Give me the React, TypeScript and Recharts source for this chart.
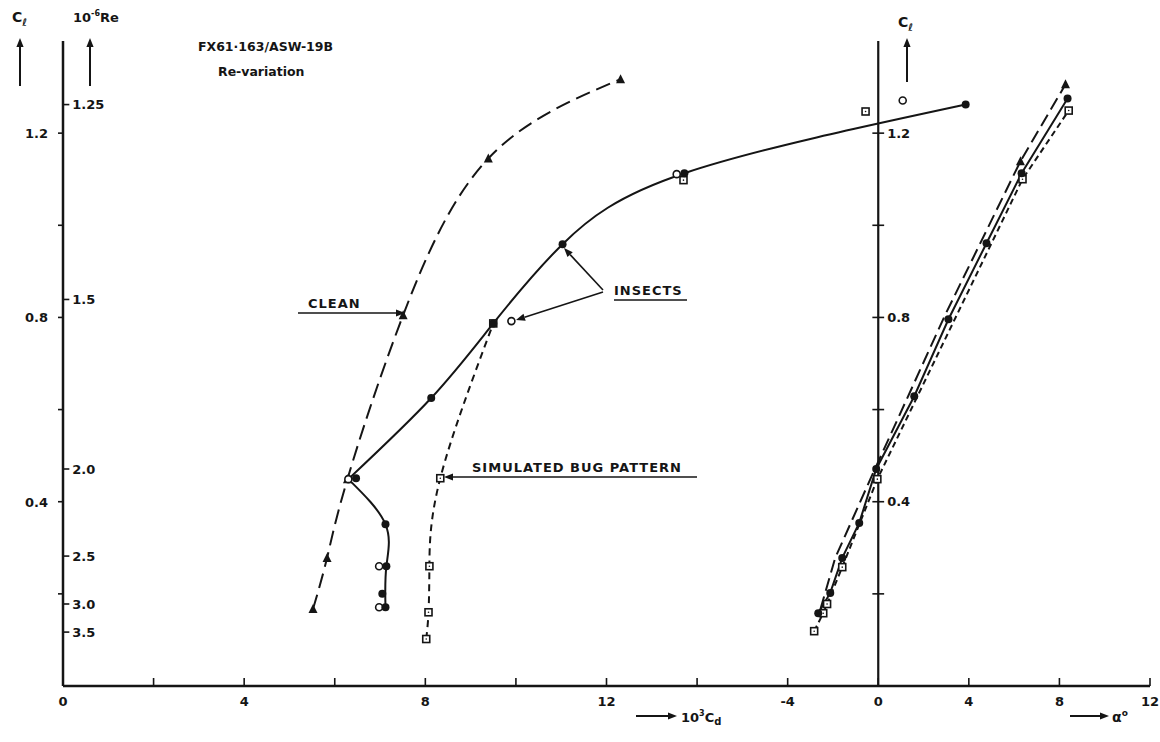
import React from 'react';
import { ComposedChart, Line, Scatter, XAxis, YAxis, ReferenceLine } from 'recharts';

// drag polar (x = 10^3 Cd, y = Cl)
const cleanPolar = [
  { x: 5.52, y: 0.167 }, { x: 5.83, y: 0.278 }, { x: 6.28, y: 0.449 },
  { x: 7.51, y: 0.805 }, { x: 9.39, y: 1.145 }, { x: 12.31, y: 1.317 },
];
const insectsPolarLow = [
  { x: 7.12, y: 0.171 }, { x: 7.14, y: 0.26 }, { x: 7.12, y: 0.351 }, { x: 6.3, y: 0.449 },
];
const insectsPolarHigh = [
  { x: 6.3, y: 0.449 }, { x: 8.13, y: 0.625 }, { x: 9.5, y: 0.787 },
  { x: 11.03, y: 0.959 }, { x: 13.72, y: 1.113 }, { x: 19.93, y: 1.262 },
];
const insectsPolarDots = [
  { x: 7.12, y: 0.171 }, { x: 7.05, y: 0.2 }, { x: 7.14, y: 0.26 }, { x: 7.12, y: 0.351 },
  { x: 6.47, y: 0.451 }, { x: 8.13, y: 0.625 }, { x: 9.5, y: 0.787 },
  { x: 11.03, y: 0.959 }, { x: 13.72, y: 1.113 }, { x: 19.93, y: 1.262 },
];
const insectsOpen = [
  { x: 6.98, y: 0.171 }, { x: 6.98, y: 0.26 }, { x: 6.3, y: 0.449 },
  { x: 9.9, y: 0.792 }, { x: 13.55, y: 1.111 }, { x: 18.54, y: 1.271 },
];
const bugPolar = [
  { x: 8.02, y: 0.102 }, { x: 8.07, y: 0.16 }, { x: 8.09, y: 0.26 },
  { x: 8.33, y: 0.451 }, { x: 9.5, y: 0.787 },
];
const bugPolarExtra = [{ x: 13.7, y: 1.098 }, { x: 17.72, y: 1.247 }];

// lift curves (alpha in degrees, Cl)
const cleanAlpha = [-2.55, -1.9, -0.35, 2.95, 6.28, 8.27];
const cleanCl = [0.167, 0.278, 0.449, 0.805, 1.139, 1.306];
const insectsAlpha = [-2.65, -2.12, -1.59, -0.84, -0.09, 1.59, 3.1, 4.78, 6.33, 8.36];
const insectsCl = [0.158, 0.202, 0.278, 0.354, 0.471, 0.629, 0.796, 0.961, 1.113, 1.275];
const bugAlpha = [-2.83, -2.43, -2.26, -1.59, -0.04, 6.37, 8.41];
const bugCl = [0.119, 0.158, 0.178, 0.258, 0.449, 1.1, 1.249];

// ticks
const xTicks = [0, 2, 4, 6, 8, 10, 12, 14, 16, 18, 20, 22, 24];
const xTickLabels = ['0', '', '4', '', '8', '', '12', '', '-4', '0', '4', '8', '12'];
const clTicks = [0.2, 0.4, 0.6, 0.8, 1.0, 1.2];
const clTickLabels = ['', '0.4', '', '0.8', '', '1.2'];
const reTickPos = [1.262, 0.839, 0.471, 0.282, 0.178, 0.117];
const reTickLabels = ['1.25', '1.5', '2.0', '2.5', '3.0', '3.5'];

const ALPHA_ZERO = 18; // alpha axis origin on the 10^3 Cd scale
const liftData = (alpha: number[], cl: number[]) =>
  alpha.map((a, i) => ({ x: ALPHA_ZERO + a / 2, y: cl[i] }));

const cleanLift = liftData(cleanAlpha, cleanCl);
const insectsLift = liftData(insectsAlpha, insectsCl);
const bugLift = liftData(bugAlpha, bugCl);
const cleanLiftMarks = cleanLift.slice(4);

const FONT = '"DejaVu Sans", sans-serif';
const INK = '#151515';
const txt = { fontFamily: FONT, fontWeight: 700, fill: INK } as const;
const labelStyle = { fontSize: 13, fontFamily: FONT, fontWeight: 700, fill: INK };

const XTick = (p: any) => {
  const label = xTickLabels[xTicks.indexOf(p.payload.value)];
  return (
    <g>
      <line x1={p.x} x2={p.x} y1={p.y} y2={p.y - 8} stroke={INK} strokeWidth={1.6} />
      {label ? <text x={p.x} y={p.y + 20} textAnchor="middle" fontSize={13} {...txt}>{label}</text> : null}
    </g>
  );
};

const ClTick = (p: any) => {
  const label = clTickLabels[clTicks.indexOf(p.payload.value)];
  return (
    <g>
      <line x1={p.x - 5} x2={p.x} y1={p.y} y2={p.y} stroke={INK} strokeWidth={1.6} />
      {label ? <text x={p.x - 15} y={p.y + 5} textAnchor="end" fontSize={13} {...txt}>{label}</text> : null}
    </g>
  );
};

const Dot = (p: any) => <circle cx={p.cx} cy={p.cy} r={4} fill={INK} />;
const OpenDot = (p: any) => <circle cx={p.cx} cy={p.cy} r={3.5} fill="#fff" stroke={INK} strokeWidth={1.6} />;
const Square = (p: any) => (
  <g>
    <rect x={p.cx - 3.5} y={p.cy - 3.5} width={7} height={7} fill="#fff" stroke={INK} strokeWidth={1.6} />
    <circle cx={p.cx} cy={p.cy} r={0.8} fill={INK} />
  </g>
);
const Tri = (p: any) => (
  <polygon points={`${p.cx},${p.cy - 5} ${p.cx - 4.5},${p.cy + 4} ${p.cx + 4.5},${p.cy + 4}`} fill={INK} />
);

const Arrow = ({ x1, y1, x2, y2, w = 1.6, head = 9 }: any) => {
  const a = Math.atan2(y2 - y1, x2 - x1);
  const hx = x2 - head * Math.cos(a);
  const hy = y2 - head * Math.sin(a);
  const s = head * 0.4;
  const pts = `${x2},${y2} ${hx + s * Math.sin(a)},${hy - s * Math.cos(a)} ${hx - s * Math.sin(a)},${hy + s * Math.cos(a)}`;
  return (
    <g>
      <line x1={x1} y1={y1} x2={hx} y2={hy} stroke={INK} strokeWidth={w} />
      <polygon points={pts} fill={INK} />
    </g>
  );
};

const Annotations = () => (
  <svg width={1160} height={742} style={{ position: 'absolute', left: 0, top: 0, pointerEvents: 'none' }}>
    <text x={12} y={22} fontSize={14} {...txt}>C<tspan fontSize={10} dy={4}>ℓ</tspan></text>
    <Arrow x1={20} y1={86} x2={20} y2={38} w={2} />
    <text x={73} y={22} fontSize={13} {...txt}>10<tspan fontSize={8} dy={-6}>-6</tspan><tspan dy={6}>Re</tspan></text>
    <Arrow x1={90} y1={86} x2={90} y2={38} w={2} />
    <text x={198} y={51} fontSize={12.5} {...txt} fontWeight={600}>FX61·163/ASW-19B</text>
    <text x={218} y={76} fontSize={12.5} {...txt} fontWeight={600}>Re-variation</text>

    <text x={308} y={308} fontSize={13} letterSpacing={1} {...txt}>CLEAN</text>
    <Arrow x1={298} y1={313} x2={405} y2={313} />

    <text x={614} y={295} fontSize={13} letterSpacing={1} {...txt}>INSECTS</text>
    <line x1={614} x2={687} y1={300} y2={300} stroke={INK} strokeWidth={1.6} />
    <Arrow x1={603} y1={290} x2={564} y2={248} />
    <Arrow x1={603} y1={292} x2={516} y2={320} />

    <text x={472} y={472} fontSize={13} letterSpacing={1} {...txt}>SIMULATED BUG PATTERN</text>
    <Arrow x1={697} y1={477} x2={444} y2={477} />

    <text x={898} y={27} fontSize={14} {...txt}>C<tspan fontSize={10} dy={4}>ℓ</tspan></text>
    <Arrow x1={907} y1={82} x2={907} y2={38} w={2} />

    <Arrow x1={636} y1={716} x2={677} y2={716} w={2} />
    <text x={681} y={722} fontSize={13} {...txt}>10<tspan fontSize={8} dy={-6}>3</tspan><tspan dy={6}>C</tspan><tspan fontSize={10} dy={3}>d</tspan></text>
    <Arrow x1={1070} y1={716} x2={1109} y2={716} w={2} />
    <text x={1112} y={722} fontSize={14} {...txt}>α<tspan fontSize={9} dy={-6}>o</tspan></text>
  </svg>
);

export default function App() {
  return (
    <div style={{ position: 'absolute', left: 0, top: 0, width: 1160, height: 742, background: '#fff' }}>
      <ComposedChart width={1160} height={742} margin={{ top: 41, right: 10, bottom: 0, left: 62 }}>
        <XAxis
          type="number"
          dataKey="x"
          domain={[0, 24]}
          ticks={xTicks}
          height={56}
          tickSize={0}
          tickMargin={0}
          tickLine={false}
          tick={<XTick />}
          axisLine={{ stroke: INK, strokeWidth: 2.5 }}
          interval={0}
        />
        <YAxis
          yAxisId="cl"
          type="number"
          dataKey="y"
          domain={[0, 1.4]}
          ticks={clTicks}
          width={1}
          tickSize={0}
          tickMargin={0}
          tickLine={false}
          tick={<ClTick />}
          axisLine={{ stroke: INK, strokeWidth: 2.5 }}
          interval={0}
        />

        {/* Reynolds number scale on the right side of the left axis */}
        {reTickPos.map((t, i) => (
          <ReferenceLine
            key={`re${t}`}
            yAxisId="cl"
            segment={[{ x: 0, y: t }, { x: 0.14, y: t }]}
            stroke={INK}
            strokeWidth={1.6}
            label={{ value: reTickLabels[i], position: 'right', offset: 3, ...labelStyle }}
          />
        ))}

        {/* alpha panel axis */}
        <ReferenceLine yAxisId="cl" x={ALPHA_ZERO} stroke={INK} strokeWidth={2.2} />
        {clTicks.map((t, i) => (
          <ReferenceLine
            key={t}
            yAxisId="cl"
            segment={[{ x: ALPHA_ZERO - 0.13, y: t }, { x: ALPHA_ZERO + 0.13, y: t }]}
            stroke={INK}
            strokeWidth={1.6}
            label={clTickLabels[i] ? { value: clTickLabels[i], position: 'right', offset: 3, ...labelStyle } : undefined}
          />
        ))}

        {/* drag polar */}
        <Line yAxisId="cl" data={cleanPolar} dataKey="y" type="natural" stroke={INK} strokeWidth={2} strokeDasharray="15 7" dot={false} isAnimationActive={false} />
        <Line yAxisId="cl" data={insectsPolarLow} dataKey="y" type="natural" stroke={INK} strokeWidth={2} dot={false} isAnimationActive={false} />
        <Line yAxisId="cl" data={insectsPolarHigh} dataKey="y" type="natural" stroke={INK} strokeWidth={2} dot={false} isAnimationActive={false} />
        <Line yAxisId="cl" data={bugPolar} dataKey="y" type="natural" stroke={INK} strokeWidth={2} strokeDasharray="7 5" dot={false} isAnimationActive={false} />

        {/* lift curves */}
        <Line yAxisId="cl" data={cleanLift} dataKey="y" type="linear" stroke={INK} strokeWidth={2} strokeDasharray="13 6" dot={false} isAnimationActive={false} />
        <Line yAxisId="cl" data={insectsLift} dataKey="y" type="linear" stroke={INK} strokeWidth={2} dot={false} isAnimationActive={false} />
        <Line yAxisId="cl" data={bugLift} dataKey="y" type="linear" stroke={INK} strokeWidth={2} strokeDasharray="6 4" dot={false} isAnimationActive={false} />

        <Scatter yAxisId="cl" data={cleanPolar} shape={<Tri />} isAnimationActive={false} />
        <Scatter yAxisId="cl" data={cleanLiftMarks} shape={<Tri />} isAnimationActive={false} />
        <Scatter yAxisId="cl" data={bugPolar} shape={<Square />} isAnimationActive={false} />
        <Scatter yAxisId="cl" data={bugPolarExtra} shape={<Square />} isAnimationActive={false} />
        <Scatter yAxisId="cl" data={bugLift} shape={<Square />} isAnimationActive={false} />
        <Scatter yAxisId="cl" data={insectsOpen} shape={<OpenDot />} isAnimationActive={false} />
        <Scatter yAxisId="cl" data={insectsPolarDots} shape={<Dot />} isAnimationActive={false} />
        <Scatter yAxisId="cl" data={insectsLift} shape={<Dot />} isAnimationActive={false} />
      </ComposedChart>
      <Annotations />
    </div>
  );
}
